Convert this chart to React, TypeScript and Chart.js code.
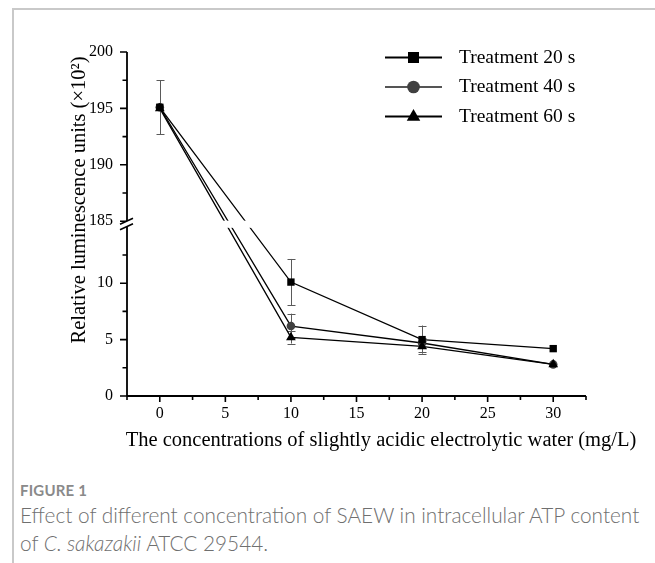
import React, { useEffect, useRef } from 'react';
import { Chart, registerables } from 'chart.js';

Chart.register(...registerables);

// ---- data ----
const concentrations = [0, 10, 20, 30];
const seriesLabels = ['Treatment 20 s', 'Treatment 40 s', 'Treatment 60 s'];
const t20 = [195.1, 10.1, 5.0, 4.2];
const t40 = [195.1, 6.2, 4.7, 2.8];
const t60 = [195.0, 5.2, 4.4, 2.8];
const err20 = [2.4, 2.05, 1.25, 0];
const err40 = [0, 1.1, 0.4, 0];
const err60 = [0, 0.55, 0.5, 0];
const xTickValues = [-2.5, 0, 2.5, 5, 7.5, 10, 12.5, 15, 17.5, 20, 22.5, 25, 27.5, 30, 32.5];
const yTicksLower = [0, 2.5, 5, 7.5, 10, 12.5];
const yTicksUpper = [185, 187.5, 190, 192.5, 195, 197.5, 200];
const yLabelled = [0, 5, 10, 185, 190, 195, 200];
const xLabelled = [0, 5, 10, 15, 20, 25, 30];
const xTitle = 'The concentrations of slightly acidic electrolytic water (mg/L)';
const yTitle = 'Relative luminescence units (\u00D710\u00B2)';

// broken axis: lower segment 0..15, upper segment 185..200
const LOW_TOP = 15;
const HIGH_BOTTOM = 185;
const GAP = 0.5;
const toAxis = (v: number) => (v <= LOW_TOP ? v : v - HIGH_BOTTOM + LOW_TOP + GAP);
const fromAxis = (t: number) => (t <= LOW_TOP + 0.01 ? t : t - LOW_TOP - GAP + HIGH_BOTTOM);

const SERIF = '"Liberation Serif", "Times New Roman", serif';

const seriesValues = [t20, t40, t60];
const seriesErrors = [err20, err40, err60];
const pointStyles = ['rect', 'circle', 'triangle'];
const markerColors = ['#000000', '#404040', '#000000'];
const legendLineColors = ['#000000', '#555555', '#000000'];

function drawMarker(ctx: CanvasRenderingContext2D, style: string, x: number, y: number, s: number, color: string) {
  ctx.save();
  ctx.fillStyle = color;
  ctx.beginPath();
  if (style === 'rect') {
    ctx.rect(x - s, y - s, 2 * s, 2 * s);
  } else if (style === 'circle') {
    ctx.arc(x, y, s * 1.15, 0, Math.PI * 2);
  } else {
    const r = s * 1.35;
    ctx.moveTo(x, y - r);
    ctx.lineTo(x + r * 0.866 * 1.05, y + r * 0.5 + 0.5);
    ctx.lineTo(x - r * 0.866 * 1.05, y + r * 0.5 + 0.5);
    ctx.closePath();
  }
  ctx.fill();
  ctx.restore();
}

const customPlugin = {
  id: 'customDraw',
  beforeDatasetsDraw(chart: any) {
    const ctx = chart.ctx as CanvasRenderingContext2D;
    const xs = chart.scales.x;
    const ys = chart.scales.y;
    ctx.save();
    ctx.strokeStyle = '#5a5a5a';
    ctx.lineWidth = 1;
    seriesValues.forEach((vals, si) => {
      vals.forEach((v, i) => {
        const e = seriesErrors[si][i];
        if (!e) return;
        const px = Math.round(xs.getPixelForValue(concentrations[i])) + 0.5;
        const top = ys.getPixelForValue(toAxis(v + e));
        const bot = ys.getPixelForValue(toAxis(v - e));
        ctx.beginPath();
        ctx.moveTo(px, top);
        ctx.lineTo(px, bot);
        ctx.moveTo(px - 4, Math.round(top) + 0.5);
        ctx.lineTo(px + 4, Math.round(top) + 0.5);
        ctx.moveTo(px - 4, Math.round(bot) + 0.5);
        ctx.lineTo(px + 4, Math.round(bot) + 0.5);
        ctx.stroke();
      });
    });
    ctx.restore();
  },
  afterDatasetsDraw(chart: any) {
    const ctx = chart.ctx as CanvasRenderingContext2D;
    const xs = chart.scales.x;
    const ys = chart.scales.y;
    const area = chart.chartArea;
    const yLow = ys.getPixelForValue(LOW_TOP);
    const yHigh = ys.getPixelForValue(LOW_TOP + GAP);
    ctx.save();
    // white band for the axis break
    ctx.fillStyle = '#ffffff';
    ctx.fillRect(area.left, yHigh - 0.5, area.right - area.left, yLow - yHigh + 1.5);

    // axes
    ctx.strokeStyle = '#000';
    ctx.lineWidth = 1.8;
    ctx.beginPath();
    ctx.moveTo(area.left, area.top);
    ctx.lineTo(area.left, yHigh);
    ctx.moveTo(area.left, yLow);
    ctx.lineTo(area.left, area.bottom);
    ctx.moveTo(area.left, area.bottom);
    ctx.lineTo(area.right, area.bottom);
    ctx.stroke();

    // y ticks
    ctx.lineWidth = 1.6;
    ctx.beginPath();
    ys.ticks.forEach((t: any) => {
      const py = ys.getPixelForValue(t.value);
      const major = yLabelled.indexOf(Math.round(fromAxis(t.value) * 10) / 10) >= 0;
      const len = major ? 7 : 4.5;
      ctx.moveTo(area.left, py);
      ctx.lineTo(area.left - len, py);
    });
    // x ticks
    xs.ticks.forEach((t: any) => {
      const px = xs.getPixelForValue(t.value);
      const major = xLabelled.indexOf(t.value) >= 0;
      const len = major ? 6 : 4;
      ctx.moveTo(px, area.bottom);
      ctx.lineTo(px, area.bottom + len);
    });
    ctx.stroke();

    // break marks
    ctx.fillStyle = '#fff';
    ctx.beginPath();
    ctx.moveTo(area.left - 7, yHigh + 3);
    ctx.lineTo(area.left + 6, yHigh - 3);
    ctx.lineTo(area.left + 6, yLow - 3);
    ctx.lineTo(area.left - 7, yLow + 3);
    ctx.closePath();
    ctx.fill();
    ctx.lineWidth = 1.6;
    ctx.beginPath();
    ctx.moveTo(area.left - 7, yHigh + 3);
    ctx.lineTo(area.left + 6, yHigh - 3);
    ctx.moveTo(area.left - 7, yLow + 3);
    ctx.lineTo(area.left + 6, yLow - 3);
    ctx.stroke();

    // legend
    const legX0 = 385;
    const legX1 = 442;
    const legY0 = 57.5;
    const legDy = 29.5;
    ctx.font = `19.5px ${SERIF}`;
    ctx.textBaseline = 'middle';
    ctx.textAlign = 'left';
    seriesLabels.forEach((lab, i) => {
      const y = legY0 + legDy * i;
      ctx.strokeStyle = legendLineColors[i];
      ctx.lineWidth = 2;
      ctx.beginPath();
      ctx.moveTo(legX0, y);
      ctx.lineTo(legX1, y);
      ctx.stroke();
      drawMarker(ctx, pointStyles[i], (legX0 + legX1) / 2, y, 5.5, markerColors[i]);
      ctx.fillStyle = '#000';
      ctx.fillText(lab, 459, y);
    });

    // axis titles
    ctx.fillStyle = '#000';
    ctx.font = `20.5px ${SERIF}`;
    ctx.textAlign = 'center';
    ctx.textBaseline = 'middle';
    ctx.fillText(xTitle, 381, 441);
    ctx.save();
    ctx.translate(80, 200);
    ctx.rotate(-Math.PI / 2);
    ctx.font = `20.5px ${SERIF}`;
    ctx.fillText(yTitle, 0, 0);
    ctx.restore();
    ctx.restore();
  },
};

export default function App() {
  const canvasRef = useRef<HTMLCanvasElement | null>(null);

  useEffect(() => {
    const canvas = canvasRef.current;
    if (!canvas) return;
    const drawOrder = [1, 3, 2];
    const datasets = seriesValues.map((vals, i) => ({
      label: seriesLabels[i],
      data: concentrations.map((c, j) => ({ x: c, y: toAxis(vals[j]) })),
      borderColor: '#000',
      borderWidth: 1.3,
      backgroundColor: markerColors[i],
      pointBackgroundColor: markerColors[i],
      pointBorderColor: markerColors[i],
      pointBorderWidth: 0,
      pointStyle: pointStyles[i],
      pointRadius: i === 0 ? 5.2 : i === 1 ? 4.3 : 5.6,
      pointHoverRadius: 5,
      tension: 0,
      fill: false,
      order: drawOrder[i],
    }));

    const chart = new Chart(canvas, {
      type: 'line',
      data: { datasets },
      options: {
        responsive: false,
        animation: false,
        devicePixelRatio: 1,
        layout: { padding: { left: 0, right: 69, top: 52, bottom: 0 } },
        plugins: {
          legend: { display: false },
          tooltip: { enabled: false },
          title: { display: false },
        },
        scales: {
          x: {
            type: 'linear',
            min: -2.5,
            max: 32.5,
            grid: { display: false, drawTicks: false },
            border: { display: false },
            afterBuildTicks: (scale: any) => {
              scale.ticks = xTickValues.map((v) => ({ value: v }));
            },
            afterFit: (scale: any) => {
              scale.height = 64;
            },
            ticks: {
              autoSkip: false,
              maxRotation: 0,
              padding: 8,
              color: '#000',
              font: { family: SERIF, size: 16 },
              callback: (v: any) => (xLabelled.indexOf(Number(v)) >= 0 ? String(v) : ''),
            },
          },
          y: {
            type: 'linear',
            min: 0,
            max: toAxis(200),
            grid: { display: false, drawTicks: false },
            border: { display: false },
            afterBuildTicks: (scale: any) => {
              scale.ticks = [...yTicksLower, ...yTicksUpper].map((v) => ({ value: toAxis(v) }));
            },
            afterFit: (scale: any) => {
              scale.width = 127;
            },
            ticks: {
              autoSkip: false,
              padding: 14,
              color: '#000',
              font: { family: SERIF, size: 16 },
              callback: (v: any) => {
                const real = Math.round(fromAxis(Number(v)) * 10) / 10;
                return yLabelled.indexOf(real) >= 0 ? String(real) : '';
              },
            },
          },
        },
      },
      plugins: [customPlugin],
    } as any);
    return () => chart.destroy();
  }, []);

  return (
    <div style={{ position: 'absolute', left: 0, top: 0, width: 655, height: 563, overflow: 'hidden', background: '#fff' }}>
      <div
        style={{
          position: 'absolute',
          left: 12,
          top: 8,
          width: 700,
          height: 600,
          borderTop: '2px solid #c9c9c9',
          borderLeft: '2px solid #c9c9c9',
        }}
      />
      <canvas ref={canvasRef} width={655} height={460} style={{ position: 'absolute', left: 0, top: 0 }} />
      <div
        style={{
          position: 'absolute',
          left: 20,
          top: 481,
          fontFamily: 'Lato, "Open Sans", sans-serif',
          fontWeight: 700,
          fontSize: 15,
          color: '#8a8a8a',
          lineHeight: '18px',
          letterSpacing: '0.2px',
        }}
      >
        FIGURE 1
      </div>
      <div
        style={{
          position: 'absolute',
          left: 20,
          top: 501,
          width: 640,
          fontFamily: 'Lato, "Open Sans", sans-serif',
          fontWeight: 300,
          fontSize: 20.8,
          color: '#6f6f6f',
          lineHeight: '28px',
          whiteSpace: 'nowrap',
        }}
      >
        Effect of different concentration of SAEW in intracellular ATP content
        <br />
        of <i>C. sakazakii</i> ATCC 29544.
      </div>
    </div>
  );
}
